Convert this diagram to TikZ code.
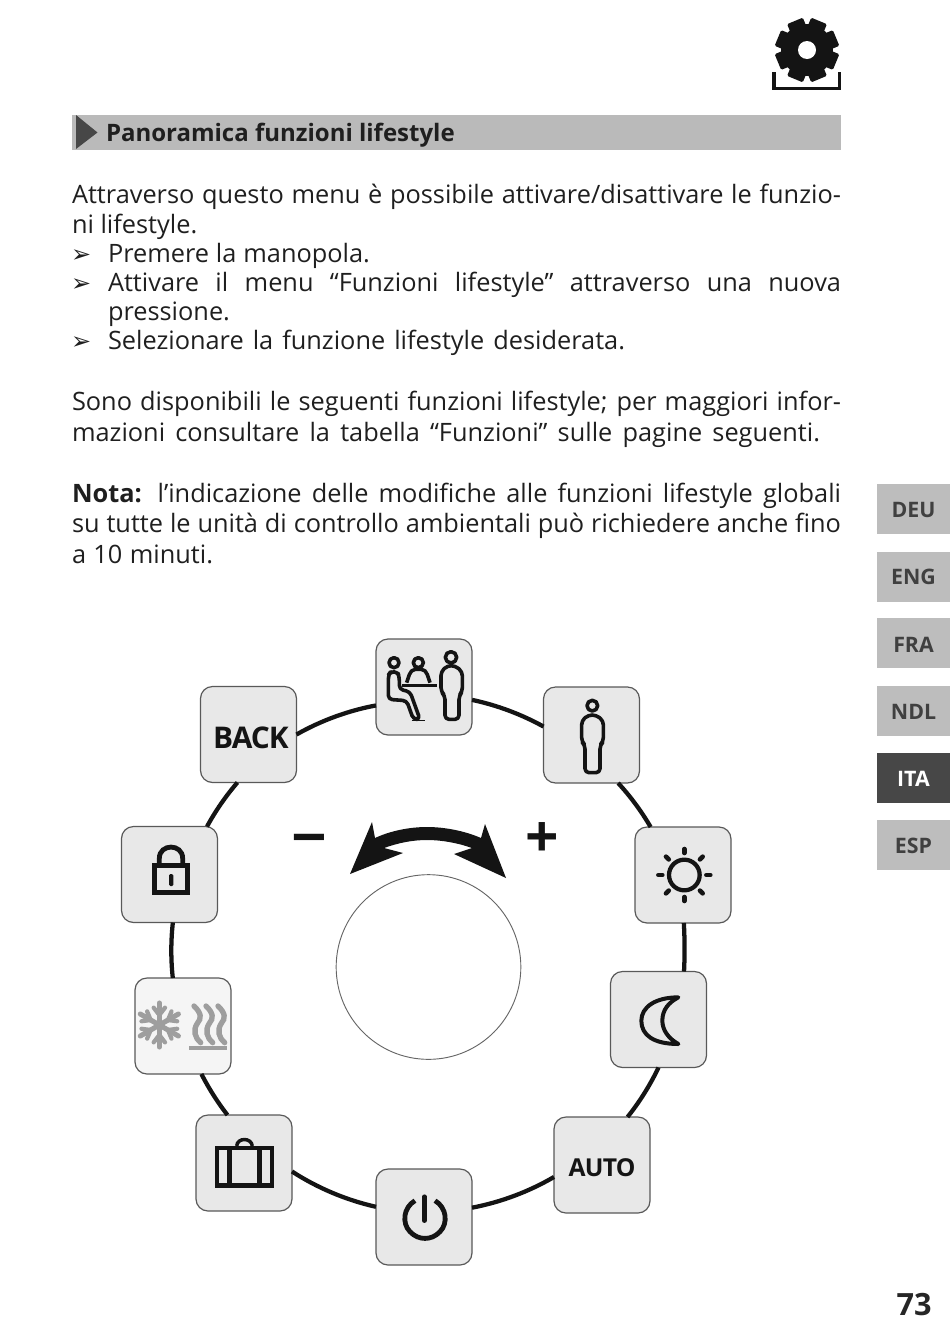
\documentclass[tikz,border=0pt]{standalone}
\usepackage{fontspec}
\setmainfont{Open Sans}
\newfontfamily\symfont{DejaVu Sans}
\newlength{\pxu}\setlength{\pxu}{0.75pt}
\newcommand{\bodyf}{\fontsize{19pt}{22pt}\selectfont}
\newcommand{\tline}[6]{\node[txt] (#1) at (#2,#3) {\bodyf\makebox[#4\pxu][s]{#5}}; }
\newcommand{\nline}[4]{\node[txt] (#1) at (#2,#3) {\bodyf #4}; }
\newcommand{\tabtxt}[2]{\raisebox{-#1pt}[0pt][0pt]{#2}}
\tikzset{
  txt/.style={anchor=base west,inner sep=0pt,outer sep=0pt,text=black!88},
  menubox/.style={draw=black!65,fill=black!9,line width=0.9pt,rounded corners=9pt,minimum width=72pt,minimum height=72pt,inner sep=0pt,outer sep=0pt},
  snowbox/.style={menubox,fill=black!4},
  ringline/.style={draw=black!92,line width=3.2pt,looseness=0.85},
  ico/.style={draw=black!92,line width=2.7pt,line join=round,rounded corners=1.5pt},
  tab/.style={fill=black!26,minimum width=54.75pt,minimum height=37.5pt,inner sep=0pt,outer sep=0pt,font=\fontsize{16pt}{20pt}\selectfont\bfseries,text=black!75},
  tabon/.style={tab,fill=black!72,text=white},
  bulletmark/.style={txt,font=\symfont\fontsize{18pt}{20pt}\selectfont},
  grayico/.style={draw=black!38,line width=3.8pt,line cap=round}
}
\begin{document}
\begin{tikzpicture}[x=0.75pt,y=-0.75pt]
\useasboundingbox (0,0) rectangle (950,1339);
% gear
\begin{scope}[shift={(807,50)}]
\foreach \a in {0,45,...,315}{\fill[black!92,rotate=\a+22.5,rounded corners=1pt] (-8.5,-31.5) rectangle (8.5,0);}
\fill[black!92] (0,0) circle (26);
\fill[white] (0,0) circle (9);
\end{scope}
\draw[black!92,line width=2.8pt,line join=miter] (774,72) -- (774,88.5) -- (839.5,88.5) -- (839.5,72);
% title band
\fill[black!27] (72,115) rectangle (841,150);
\fill[black!72] (76,115) -- (97.5,132.5) -- (76,149) -- cycle;
\node[txt,font=\fontsize{18pt}{22pt}\selectfont\bfseries] (title) at (106,141.5) {Panoramica funzioni lifestyle};
% body text
\tline{l1}{72}{203}{769}{Attraverso questo menu è possibile attivare/disattivare le funzio-}{}
\nline{l2}{72}{233}{ni lifestyle.}
\node[bulletmark] (b1) at (71,262) {➢};
\tline{l3}{108}{262}{262}{Premere la manopola.}{}
\node[bulletmark] (b2) at (71,291) {➢};
\tline{l4}{108}{291}{733}{Attivare il menu “Funzioni lifestyle” attraverso una nuova}{}
\nline{l5}{108}{320}{pressione.}
\node[bulletmark] (b3) at (71,349) {➢};
\tline{l6}{108}{349}{517}{Selezionare la funzione lifestyle desiderata.}{}
\tline{l7}{72}{410}{769}{Sono disponibili le seguenti funzioni lifestyle; per maggiori infor-}{}
\tline{l8}{72}{441}{748}{mazioni consultare la tabella “Funzioni” sulle pagine seguenti.}{}
\tline{l9}{72}{502}{769}{\textbf{Nota:} l’indicazione delle modifiche alle funzioni lifestyle globali}{}
\tline{l10}{72}{532}{769}{su tutte le unità di controllo ambientali può richiedere anche fino}{}
\tline{l11}{72}{563}{141}{a 10 minuti.}{}
% tabs
\node[tab] (deu) at (913.5,509) {\tabtxt{6.5}{DEU}};
\node[tab] (eng) at (913.5,577) {\tabtxt{5.7}{ENG}};
\node[tab] (fra) at (913.5,643) {\tabtxt{7.2}{FRA}};
\node[tab] (ndl) at (913.5,711) {\tabtxt{6.5}{NDL}};
\node[tabon] (ita) at (913.5,778) {\tabtxt{6.5}{ITA}};
\node[tab] (esp) at (913.5,845) {\tabtxt{6.5}{ESP}};
\node[anchor=center,inner sep=0pt,font=\fontsize{23pt}{26pt}\selectfont\bfseries,text=black!85] (page) at (914,1305) {73};
% menu boxes
\node[menubox] (T) at (424,687) {};
\node[menubox] (P) at (591.5,735) {};
\node[menubox] (S) at (683,875) {};
\node[menubox] (M) at (658.5,1019.5) {};
\node[menubox] (A) at (602,1165) {};
\node[menubox] (O) at (424,1217) {};
\node[menubox] (C) at (244,1163) {};
\node[snowbox] (W) at (183,1026) {};
\node[menubox] (L) at (169.5,874.5) {};
\node[menubox] (B) at (248.5,734.5) {};
% ring connectors
\draw[ringline] (T.-15.9) to[bend left=8.5] (P.170.1);
\draw[ringline] (P.-61.6) to[bend left=6.2] (S.124.5);
\draw[ringline] (S.-89) to[bend left=3] (M.62);
\draw[ringline] (M.-90.6) to[bend left=6.6] (A.62.5);
\draw[ringline] (A.-166) to[bend left=9.8] (O.11.8);
\draw[ringline] (O.168.2) to[bend left=10.2] (C.-10.6);
\draw[ringline] (C.109.5) to[bend left=5.4] (W.-69.4);
\draw[ringline] (W.102.9) to[bend left=6.3] (L.-86.4);
\draw[ringline] (L.52.5) to[bend left=6.1] (B.-103.6);
\draw[ringline] (B.0) to[bend left=9.6] (T.-159.4);
% labels in boxes
\node[inner sep=0pt,font=\fontsize{22.4pt}{24pt}\selectfont\bfseries,text=black!92] (backtxt) at (251,737.5) {\addfontfeature{LetterSpace=-3}BACK};
\node[inner sep=0pt,font=\fontsize{18.5pt}{20pt}\selectfont\bfseries,text=black!92] (autotxt) at (602,1168) {\addfontfeature{LetterSpace=-3}AUTO};
% knob
\node[circle,draw=black!60,line width=0.7pt,minimum size=138.5pt,inner sep=0pt] (knob) at (428.5,967) {};
% arrow
\fill[black!92] (427,827) .. controls (445,827) and (465,831) .. (481,838) -- (485,824) -- (506,878) -- (454,854) -- (472,848) .. controls (458,843) and (442,840) .. (427,840) .. controls (412,840) and (398,843) .. (384,848) -- (403,853) -- (350,874) -- (372,822) -- (375,838) .. controls (390,831) and (409,827) .. (427,827) -- cycle;
\node[inner sep=0pt,font=\fontsize{44pt}{46pt}\selectfont\bfseries,text=black!92] (plus) at (542,840) {+};
\node[inner sep=0pt,font=\fontsize{42pt}{44pt}\selectfont\bfseries,text=black!92] (minus) at (309,843) {\scalebox{1.28}[1]{–}};
% icon: seated and standing
\begin{scope}[shift={(360,630)},x=0.25pt,y=-0.25pt]
\draw[ico] (102,98) circle (15);
\draw[ico] (175,98) circle (15);
\draw[ico] (273,82) circle (17);
\draw[ico,rounded corners=3pt] (262,107) -- (285,107) -- (307,125) -- (307,185) -- (297,197) -- (297,268) -- (255,268) -- (255,197) -- (243,185) -- (243,125) -- cycle;
\draw[ico,rounded corners=3pt] (92,125) -- (112,125) -- (118,140) -- (118,178) -- (150,185) -- (180,268) -- (160,268) -- (140,212) -- (85,208) -- (85,135) -- cycle;
\draw[ico] (140,158) -- (150,128) -- (160,118) -- (190,118) -- (200,128) -- (210,158);
\draw[black!92,line width=2.4pt] (125,167) -- (232,167);
\draw[black!92,line width=1pt] (155,271) -- (195,271);
% icon: person
\draw[ico] (697,227) circle (16);
\draw[ico,rounded corners=3pt] (685,255) -- (708,255) -- (730,272) -- (730,335) -- (720,345) -- (720,428) -- (675,428) -- (675,345) -- (665,335) -- (665,272) -- cycle;
% icon: sun
\draw[black!92,line width=3.2pt] (973,735) circle (46);
\foreach \a in {0,45,...,315}{\draw[black!92,line width=3.4pt,line cap=round,rotate around={\a:(973,735)}] (973+66,735) -- (973+78,735);}
\end{scope}
% icon: moon
\begin{scope}[shift={(540,960)},x=0.25pt,y=-0.25pt]
\draw[ico,line width=3pt,rounded corners=0pt] (415,112) .. controls (345,112) and (304,142) .. (304,182) .. controls (304,225) and (340,252) .. (415,252) .. controls (385,235) and (367,210) .. (367,182) .. controls (367,150) and (385,128) .. (415,112) -- cycle;
\end{scope}
% icon: lock
\begin{scope}[shift={(110,680)},x=0.25pt,y=-0.25pt]
\draw[black!92,line width=3.6pt] (134,556) rectangle (233,638);
\draw[black!92,line width=3.6pt] (148,556) -- (148,535) .. controls (148,490) and (218,490) .. (218,535) -- (218,556);
\fill[black!92,rounded corners=1pt] (177,582) rectangle (190,618);
\end{scope}
% icons: snow/heat, case, power
\begin{scope}[shift={(120,970)},x=0.25pt,y=-0.25pt]
\foreach \a in {30,90,150,210,270,330}{
 \begin{scope}[rotate around={\a:(118,165)}]
 \draw[grayico] (118,165) -- (184,165);
 \draw[grayico,line width=3.2pt] (148,165) -- (170,148);
 \draw[grayico,line width=3.2pt] (148,165) -- (170,182);
 \end{scope}}
\foreach \dx in {0,36,72}{
 \draw[grayico,line width=4pt] (222+\dx,108) .. controls (245+\dx,130) and (245+\dx,145) .. (232+\dx,160) .. controls (218+\dx,180) and (225+\dx,205) .. (242+\dx,218);}
\fill[black!38] (207,227) rectangle (322,241);
\draw[black!92,line width=3.4pt] (291,534) rectangle (456,647);
\draw[black!92,line width=3.4pt] (329,534) -- (329,647) (418,534) -- (418,647);
\draw[black!92,line width=2.6pt] (350,528) .. controls (352,502) and (394,502) .. (397,528);
\draw[black!92,line width=3.6pt] (885,692) .. controls (850,712) and (845,760) .. (870,785) .. controls (895,812) and (935,812) .. (960,785) .. controls (985,760) and (980,712) .. (945,692);
\draw[black!92,line width=3.4pt,line cap=round] (913,680) -- (913,752);
\end{scope}
\end{tikzpicture}
\end{document}
